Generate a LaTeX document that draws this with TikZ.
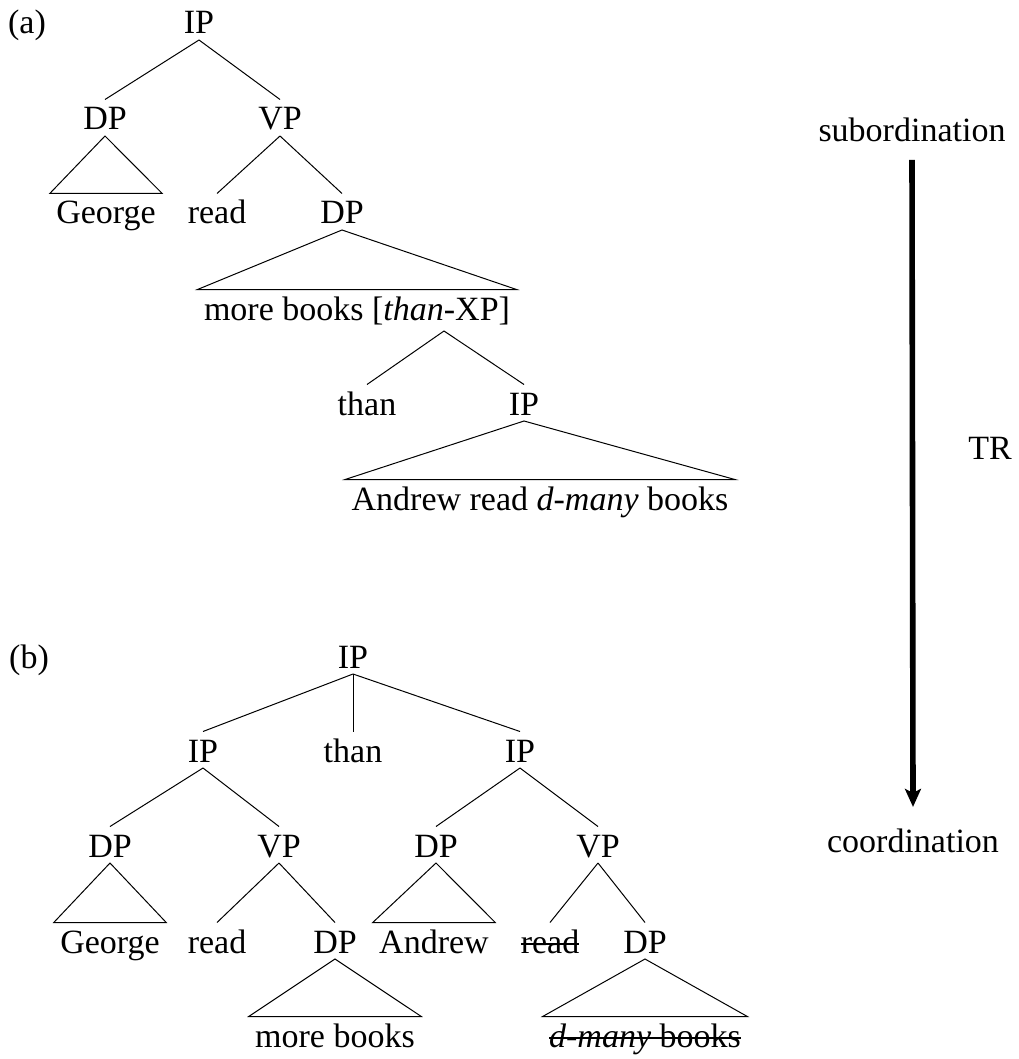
\documentclass[tikz,border=0pt]{standalone}
\usepackage{fontspec}
\setmainfont{Liberation Serif}
\usetikzlibrary{arrows.meta}
\newcommand{\strk}[1]{\setbox0\hbox{#1}\rlap{\rule[4.2pt]{\wd0}{1pt}}\box0}

\begin{document}
\begin{tikzpicture}[x=0.5pt, y=-0.5pt, line width=0.5pt,
    tn/.style={font=\fontsize{17}{20}\selectfont, inner sep=0pt, text height=15pt, text depth=2.75pt, anchor=base},
    leaf/.style={tn, inner xsep=3pt},
    lbl/.style={font=\fontsize{17}{20}\selectfont, inner sep=0pt, anchor=base},
    trarrow/.style={line width=2.8pt, -{Stealth[length=9pt, width=8pt, inset=2pt]}}]

    \useasboundingbox (0,0) rectangle (1018,1059);

    \node[lbl] (LabA) at (27,34) {(a)};
    \node[tn] (IPa) at (199,34) {IP};
    \node[tn] (DPa1) at (105,130) {DP};
    \node[tn] (VPa) at (280,130) {VP};
    \node[leaf] (Geoa) at (106,224) {George};
    \node[tn] (Reada) at (217,224) {read};
    \node[tn] (DPa2) at (342,224) {DP};
    \node[leaf] (Morea) at (357,320) {more books [\textit{than}-XP]};
    \coordinate (ThanXP) at (444,331);
    \node[tn] (Thana) at (367,415) {than};
    \node[tn] (IPa2) at (524,415) {IP};
    \node[leaf] (Anda) at (540,510) {Andrew read \textit{d-many} books};
    \draw (IPa.south) -- (DPa1.north);
    \draw (IPa.south) -- (VPa.north);
    \draw (DPa1.south) -- (Geoa.north west) -- (Geoa.north east) -- cycle;
    \draw (VPa.south) -- (Reada.north);
    \draw (VPa.south) -- (DPa2.north);
    \draw (DPa2.south) -- (Morea.north west) -- (Morea.north east) -- cycle;
    \draw (ThanXP) -- (Thana.north);
    \draw (ThanXP) -- (IPa2.north);
    \draw (IPa2.south) -- (Anda.north west) -- (Anda.north east) -- cycle;

    \node[lbl] (LabB) at (29,668) {(b)};
    \node[tn] (IPb) at (353,668) {IP};
    \node[tn] (IPb1) at (203,762) {IP};
    \node[tn] (Thanb) at (353,762) {than};
    \node[tn] (IPb2) at (520,762) {IP};
    \node[tn] (DPb1) at (110,857) {DP};
    \node[tn] (VPb1) at (279,857) {VP};
    \node[tn] (DPb2) at (436,857) {DP};
    \node[tn] (VPb2) at (598,857) {VP};
    \node[leaf] (Geob) at (110,953) {George};
    \node[tn] (Readb) at (217,953) {read};
    \node[tn] (DPb3) at (335,953) {DP};
    \node[leaf] (Andb) at (434,953) {Andrew};
    \node[tn] (Readb2) at (550,953) {\strk{read}};
    \node[tn] (DPb4) at (645,953) {DP};
    \node[leaf] (Moreb) at (335,1047) {more books};
    \node[leaf] (Manyb) at (645,1047) {\strk{\textit{d-many} books}};
    \draw (IPb.south) -- (IPb1.north);
    \draw (IPb.south) -- (Thanb.north);
    \draw (IPb.south) -- (IPb2.north);
    \draw (IPb1.south) -- (DPb1.north);
    \draw (IPb1.south) -- (VPb1.north);
    \draw (IPb2.south) -- (DPb2.north);
    \draw (IPb2.south) -- (VPb2.north);
    \draw (DPb1.south) -- (Geob.north west) -- (Geob.north east) -- cycle;
    \draw (VPb1.south) -- (Readb.north);
    \draw (VPb1.south) -- (DPb3.north);
    \draw (DPb2.south) -- (Andb.north west) -- (Andb.north east) -- cycle;
    \draw (VPb2.south) -- (Readb2.north);
    \draw (VPb2.south) -- (DPb4.north);
    \draw (DPb3.south) -- (Moreb.north west) -- (Moreb.north east) -- cycle;
    \draw (DPb4.south) -- (Manyb.north west) -- (Manyb.north east) -- cycle;

    \node[lbl] (Sub) at (912,142) {subordination};
    \node[lbl] (Coord) at (913,852) {coordination};
    \node[lbl] (TR) at (990,459) {TR};
    \draw[trarrow] ([yshift=-8.5pt]Sub.south) -- ([yshift=10.5pt]Coord.north);
\end{tikzpicture}
\end{document}
